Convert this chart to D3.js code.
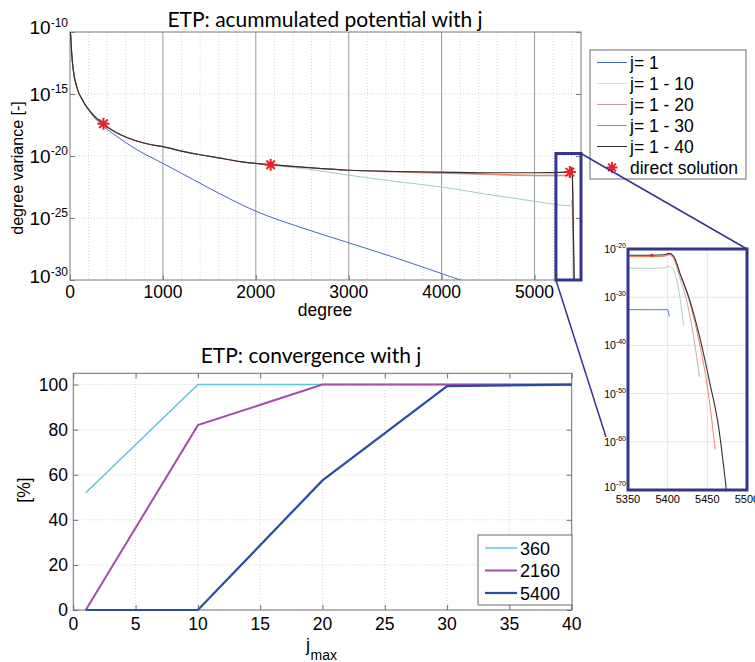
<!DOCTYPE html>
<html>
<head>
<meta charset="utf-8">
<script src="https://cdn.jsdelivr.net/npm/d3@7"></script>
<style>
  body { margin: 0; background: #fff; }
  svg { display: block; }
  text { font-family: "Liberation Sans", Arial, sans-serif; fill: #000; }
  .title { font-family: Lato, "Open Sans", sans-serif; }
</style>
</head>
<body>
<svg id="chart" width="755" height="662"></svg>
<script>
// ---------- degree variance of the accumulated potential (log10 values) ----------
const degJ1  = [2, 7, 18, 36, 72, 143, 251, 358, 500, 700, 1000, 1327, 1500, 2000, 2500, 3000, 3500, 4200, 4800, 5380, 5400, 5402];
const expJ1  = [-10.0, -10.25, -11.7, -13.1, -14.4, -15.6, -16.8, -17.6, -18.4, -19.4, -20.6, -21.9, -22.6, -24.45, -25.8, -27.0, -28.2, -30.0, -31.5, -32.6, -32.6, -34.0];

const degJ10 = [2, 7, 18, 36, 72, 143, 251, 358, 450, 550, 700, 850, 1000, 1200, 1400, 1600, 1830, 2000, 2160, 2500, 3000, 3500, 4000, 4500, 5000, 5380, 5396, 5402, 5408, 5414, 5420];
const expJ10 = [-10.0, -10.25, -11.7, -13.1, -14.4, -15.6, -16.7, -17.4, -17.9, -18.3, -18.75, -19.05, -19.25, -19.6, -19.9, -20.15, -20.45, -20.6, -20.75, -21.0, -21.55, -22.05, -22.5, -23.1, -23.65, -24.0, -23.9, -23.6, -24.6, -28.5, -35.9];

const degJ20 = [2, 7, 18, 36, 72, 143, 251, 358, 450, 550, 700, 850, 1000, 1200, 1400, 1600, 1830, 2000, 2160, 2500, 3000, 3500, 4000, 4500, 5000, 5380, 5396, 5402, 5408, 5415, 5425, 5433, 5440];
const expJ20 = [-10.0, -10.25, -11.7, -13.1, -14.4, -15.6, -16.7, -17.4, -17.9, -18.3, -18.75, -19.05, -19.25, -19.6, -19.9, -20.15, -20.45, -20.6, -20.7, -20.9, -21.15, -21.3, -21.4, -21.5, -21.6, -21.6, -21.5, -21.2, -22.2, -25.8, -31.5, -38.5, -46.5];

const degJ30 = [2, 7, 18, 36, 72, 143, 251, 358, 450, 550, 700, 850, 1000, 1200, 1400, 1600, 1830, 2000, 2160, 2500, 3000, 3500, 4000, 4500, 5000, 5380, 5396, 5402, 5408, 5415, 5428, 5440, 5450, 5460];
const expJ30 = [-10.0, -10.25, -11.7, -13.1, -14.4, -15.6, -16.7, -17.4, -17.9, -18.3, -18.75, -19.05, -19.25, -19.6, -19.9, -20.15, -20.45, -20.6, -20.7, -20.9, -21.15, -21.25, -21.35, -21.45, -21.55, -21.55, -21.45, -21.1, -21.9, -25.0, -31.2, -39.5, -48.5, -61.6];

const degJ40 = [2, 7, 18, 36, 72, 143, 251, 358, 450, 550, 700, 850, 1000, 1200, 1400, 1600, 1830, 2000, 2160, 2500, 3000, 3500, 4000, 4500, 5000, 5380, 5396, 5402, 5408, 5415, 5428, 5441, 5453, 5464, 5474];
const expJ40 = [-10.0, -10.25, -11.7, -13.1, -14.4, -15.6, -16.7, -17.4, -17.9, -18.3, -18.75, -19.05, -19.25, -19.6, -19.9, -20.15, -20.45, -20.6, -20.7, -20.9, -21.15, -21.25, -21.3, -21.35, -21.35, -21.3, -21.2, -20.9, -21.6, -24.8, -30.7, -38.7, -47.7, -56.7, -70.0];

const seriesNames = ["j= 1", "j= 1 - 10", "j= 1 - 20", "j= 1 - 30", "j= 1 - 40"];

// direct solution at the three resolutions
const directDeg = [360, 2160, 5380];
const directExp = [-17.4, -20.7, -21.3];
const directName = "direct solution";

// axis ticks
const degreeTicks = [0, 1000, 2000, 3000, 4000, 5000];
const degreeMinorTicks = d3.range(200, 5500, 200);
const varExpTicks = [-10, -15, -20, -25, -30];
const insetDegTicks = [5350, 5400, 5450, 5500];
const insetExpTicks = [-20, -30, -40, -50, -60, -70];

// zoom window on the truncation end
const zoomDeg = [5230, 5500];
const zoomExp = [-19.8, -30];

// ---------- convergence vs. maximum j ----------
const jmax = [1, 10, 20, 30, 40];
const conv360  = [52, 100, 100, 100, 100];
const conv2160 = [0, 82, 100, 100, 100];
const conv5400 = [0, 0, 57.5, 99.3, 100];
const convNames = ["360", "2160", "5400"];
const jTicks = [0, 5, 10, 15, 20, 25, 30, 35, 40];
const pctTicks = [0, 20, 40, 60, 80, 100];

// ---------- styling ----------
const lineColors = ["#4466bb", "#a3caca", "#c99c9c", "#f07452", "#303030"];
const convColors = ["#5cc6d6", "#a24fa6", "#2a4ca6"];
const convWidths = [1.5, 2, 2.2];
const navy = "#34348e";
const starRed = "#e8202a";

const svg = d3.select("#chart");

// ================= upper panel =================
const x = d3.scaleLinear().domain([0, 5500]).range([70, 581]);
const y = d3.scaleLog().domain([1e-30, 1e-10]).range([280, 32]);
const upper = svg.append("g");

upper.append("defs").append("clipPath").attr("id", "clipTop")
  .append("rect").attr("x", x(0)).attr("y", y(1e-10))
  .attr("width", x(5500) - x(0)).attr("height", y(1e-30) - y(1e-10));

// grid
upper.append("g").selectAll("line").data(degreeMinorTicks.filter(d => d % 1000 !== 0)).join("line")
  .attr("x1", d => x(d)).attr("x2", d => x(d)).attr("y1", y(1e-10)).attr("y2", y(1e-30))
  .attr("stroke", "#cfcfcf").attr("stroke-width", 0.8).attr("stroke-dasharray", "1,2");
upper.append("g").selectAll("line").data(degreeTicks.filter(d => d > 0)).join("line")
  .attr("x1", d => x(d)).attr("x2", d => x(d)).attr("y1", y(1e-10)).attr("y2", y(1e-30))
  .attr("stroke", "#9a9a9a").attr("stroke-width", 1);
upper.append("g").selectAll("line").data(varExpTicks.slice(1, -1)).join("line")
  .attr("x1", x(0)).attr("x2", x(5500)).attr("y1", d => y(10 ** d)).attr("y2", d => y(10 ** d))
  .attr("stroke", "#c8c8c8").attr("stroke-width", 0.8).attr("stroke-dasharray", "1,2");

// box and inward ticks
upper.append("rect").attr("x", x(0)).attr("y", y(1e-10))
  .attr("width", x(5500) - x(0)).attr("height", y(1e-30) - y(1e-10))
  .attr("fill", "none").attr("stroke", "#7a7a7a").attr("stroke-width", 1);
upper.append("g").attr("transform", `translate(0,${y(1e-30)})`)
  .call(d3.axisBottom(x).tickValues(degreeTicks).tickSizeInner(-5).tickSizeOuter(0).tickFormat(""))
  .call(g => g.select(".domain").remove())
  .call(g => g.selectAll("line").attr("stroke", "#7a7a7a"));
[x(0), x(5500)].forEach((px, i) => {
  upper.append("g").attr("transform", `translate(${px},0)`)
    .call((i === 0 ? d3.axisLeft(y) : d3.axisRight(y)).tickValues(varExpTicks.map(e => 10 ** e))
      .tickSizeInner(-5).tickSizeOuter(0).tickFormat(""))
    .call(g => g.select(".domain").remove())
    .call(g => g.selectAll("line").attr("stroke", "#7a7a7a"));
});

// tick labels
upper.append("g").selectAll("text").data(degreeTicks).join("text")
  .attr("x", d => x(d)).attr("y", 298).attr("text-anchor", "middle")
  .attr("font-size", 17.5).text(d => d);

function powerLabel(g, px, py, e, big, small, rise) {
  const t = g.append("text").attr("x", px).attr("y", py).attr("text-anchor", "end")
    .attr("font-size", big);
  t.append("tspan").text("10");
  t.append("tspan").attr("font-size", small).attr("dy", -rise).text(e);
  return t;
}
varExpTicks.forEach((e, i) => {
  const off = i === 0 ? 2 : (i === varExpTicks.length - 1 ? 3 : 6.5);
  powerLabel(upper, 68, y(10 ** e) + off, e, 19, 12, 7.5);
});

// curves
const seriesDeg = [degJ1, degJ10, degJ20, degJ30, degJ40];
const seriesExp = [expJ1, expJ10, expJ20, expJ30, expJ40];
const seriesData = seriesDeg.map((ds, k) => ds.map((d, i) => [d, seriesExp[k][i]]));

const curves = upper.append("g").attr("clip-path", "url(#clipTop)");
const lineTop = d3.line().x(d => x(d[0])).y(d => y(10 ** d[1])).curve(d3.curveMonotoneX);
seriesData.forEach((s, k) => {
  curves.append("path").datum(s).attr("d", lineTop).attr("fill", "none")
    .attr("stroke", lineColors[k]).attr("stroke-width", k === 4 ? 1.2 : 1);
});

// asterisk marker
function starPath(r) {
  const a = r * 0.707;
  return `M${-r},0L${r},0M0,${-r}L0,${r}M${-a},${-a}L${a},${a}M${-a},${a}L${a},${-a}`;
}
upper.append("g").selectAll("path").data(directDeg.map((d, i) => [d, directExp[i]])).join("path")
  .attr("transform", d => `translate(${x(d[0])},${y(10 ** d[1])})`)
  .attr("d", starPath(6)).attr("stroke", starRed).attr("stroke-width", 2).attr("fill", "none");

// axis titles
upper.append("text").attr("class", "title").attr("x", 325).attr("y", 27)
  .attr("text-anchor", "middle").attr("font-size", 21).text("ETP: acummulated potential with j");
upper.append("text").attr("x", 325).attr("y", 316).attr("text-anchor", "middle")
  .attr("font-size", 17.5).text("degree");
upper.append("text").attr("transform", "translate(23,168) rotate(-90)")
  .attr("text-anchor", "middle").attr("font-size", 16).text("degree variance [-]");

// legend
const lg = upper.append("g");
lg.append("rect").attr("x", 590).attr("y", 50).attr("width", 156).attr("height", 129)
  .attr("fill", "#fff").attr("stroke", "#6a6a6a").attr("stroke-width", 1);
seriesNames.forEach((name, k) => {
  const cy = 62.5 + k * 21;
  lg.append("line").attr("x1", 597).attr("x2", 627).attr("y1", cy).attr("y2", cy)
    .attr("stroke", k === 1 ? "#d6dede" : lineColors[k]).attr("stroke-width", 1);
  lg.append("text").attr("x", 630).attr("y", cy + 6).attr("font-size", 17.5).text(name);
});
lg.append("path").attr("transform", "translate(612,167.5)").attr("d", starPath(5.5))
  .attr("stroke", starRed).attr("stroke-width", 2).attr("fill", "none");
lg.append("text").attr("x", 630).attr("y", 173.5).attr("font-size", 17.5).text(directName);

// ================= inset =================
const xi = d3.scaleLinear().domain([5350, 5500]).range([628, 747]);
const yi = d3.scaleLog().domain([1e-70, 1e-20]).range([490, 249]);
const inset = svg.append("g");
inset.append("defs").append("clipPath").attr("id", "clipInset")
  .append("rect").attr("x", xi(5350)).attr("y", yi(1e-20))
  .attr("width", xi(5500) - xi(5350)).attr("height", yi(1e-70) - yi(1e-20));
inset.append("rect").attr("x", xi(5350)).attr("y", yi(1e-20))
  .attr("width", xi(5500) - xi(5350)).attr("height", yi(1e-70) - yi(1e-20)).attr("fill", "#fff");
inset.append("g").selectAll("line").data(insetDegTicks.slice(1, -1)).join("line")
  .attr("x1", d => xi(d)).attr("x2", d => xi(d)).attr("y1", yi(1e-20)).attr("y2", yi(1e-70))
  .attr("stroke", "#dcdce6").attr("stroke-width", 0.8);
inset.append("g").selectAll("line").data(insetExpTicks.slice(1, -1)).join("line")
  .attr("x1", xi(5350)).attr("x2", xi(5500)).attr("y1", d => yi(10 ** d)).attr("y2", d => yi(10 ** d))
  .attr("stroke", "#dcdce6").attr("stroke-width", 0.8);
const lineInset = d3.line().x(d => xi(d[0])).y(d => yi(10 ** d[1])).curve(d3.curveMonotoneX);
const insetCurves = inset.append("g").attr("clip-path", "url(#clipInset)");
seriesData.forEach((s, k) => {
  insetCurves.append("path").datum(s).attr("d", lineInset).attr("fill", "none")
    .attr("stroke", lineColors[k]).attr("stroke-width", k === 4 ? 1.1 : 0.9);
});
insetCurves.append("path")
  .attr("transform", `translate(${xi(directDeg[2])},${yi(10 ** directExp[2])})`)
  .attr("d", starPath(1.6)).attr("stroke", starRed).attr("stroke-width", 1.2);
inset.append("rect").attr("x", xi(5350)).attr("y", yi(1e-20))
  .attr("width", xi(5500) - xi(5350)).attr("height", yi(1e-70) - yi(1e-20))
  .attr("fill", "none").attr("stroke", navy).attr("stroke-width", 3);
insetExpTicks.forEach((e, i) => {
  const off = i === insetExpTicks.length - 1 ? 1 : 4;
  powerLabel(inset, 626, yi(10 ** e) + off, e, 10.5, 7, 5).attr("fill", "#222");
});
inset.append("g").selectAll("text").data(insetDegTicks).join("text")
  .attr("x", d => xi(d)).attr("y", 503).attr("text-anchor", "middle")
  .attr("font-size", 11).text(d => d);

// zoom window and connectors
svg.append("rect").attr("x", x(zoomDeg[0])).attr("y", y(10 ** zoomExp[0]))
  .attr("width", x(zoomDeg[1]) - x(zoomDeg[0])).attr("height", y(10 ** zoomExp[1]) - y(10 ** zoomExp[0]))
  .attr("fill", "none").attr("stroke", navy).attr("stroke-width", 3);
svg.append("line")
  .attr("x1", x(zoomDeg[1])).attr("y1", y(10 ** zoomExp[0]))
  .attr("x2", xi(5500)).attr("y2", yi(1e-20))
  .attr("stroke", navy).attr("stroke-width", 1.5);
svg.append("line")
  .attr("x1", x(zoomDeg[0])).attr("y1", y(10 ** zoomExp[1]))
  .attr("x2", xi(5350) - 22).attr("y2", yi(1e-59))
  .attr("stroke", navy).attr("stroke-width", 1.5);

// ================= lower panel =================
const xb = d3.scaleLinear().domain([0, 40]).range([73.3, 571.7]);
const yb = d3.scaleLinear().domain([0, 105]).range([610, 373.3]);
const lower = svg.append("g");

lower.append("g").selectAll("line").data(jTicks.slice(1, -1)).join("line")
  .attr("x1", d => xb(d)).attr("x2", d => xb(d)).attr("y1", yb(0)).attr("y2", yb(105))
  .attr("stroke", "#c8c8c8").attr("stroke-width", 0.8).attr("stroke-dasharray", "1,2");
lower.append("g").selectAll("line").data(pctTicks.slice(1)).join("line")
  .attr("x1", xb(0)).attr("x2", xb(40)).attr("y1", d => yb(d)).attr("y2", d => yb(d))
  .attr("stroke", "#c8c8c8").attr("stroke-width", 0.8).attr("stroke-dasharray", "1,2");
lower.append("rect").attr("x", xb(0)).attr("y", yb(105))
  .attr("width", xb(40) - xb(0)).attr("height", yb(0) - yb(105))
  .attr("fill", "none").attr("stroke", "#6e6e6e").attr("stroke-width", 1);
[yb(0), yb(105)].forEach((py, i) => {
  lower.append("g").attr("transform", `translate(0,${py})`)
    .call((i === 0 ? d3.axisBottom(xb) : d3.axisTop(xb)).tickValues(jTicks).tickSizeInner(-5).tickSizeOuter(0).tickFormat(""))
    .call(g => g.select(".domain").remove())
    .call(g => g.selectAll("line").attr("stroke", "#6e6e6e"));
});
[xb(0), xb(40)].forEach((px, i) => {
  lower.append("g").attr("transform", `translate(${px},0)`)
    .call((i === 0 ? d3.axisLeft(yb) : d3.axisRight(yb)).tickValues(pctTicks).tickSizeInner(-5).tickSizeOuter(0).tickFormat(""))
    .call(g => g.select(".domain").remove())
    .call(g => g.selectAll("line").attr("stroke", "#6e6e6e"));
});
lower.append("g").selectAll("text").data(jTicks).join("text")
  .attr("x", d => xb(d)).attr("y", 630).attr("text-anchor", "middle")
  .attr("font-size", 17.5).text(d => d);
lower.append("g").selectAll("text").data(pctTicks).join("text")
  .attr("x", 68).attr("y", d => yb(d) + 6).attr("text-anchor", "end")
  .attr("font-size", 17.5).text(d => d);

const convData = [conv360, conv2160, conv5400].map(v => jmax.map((j, i) => [j, v[i]]));
const lineBot = d3.line().x(d => xb(d[0])).y(d => yb(d[1]));
convData.forEach((s, k) => {
  lower.append("path").datum(s).attr("d", lineBot).attr("fill", "none")
    .attr("stroke", convColors[k]).attr("stroke-width", convWidths[k]);
});

lower.append("text").attr("class", "title").attr("x", 311).attr("y", 363)
  .attr("text-anchor", "middle").attr("font-size", 21).text("ETP: convergence with j");
const jl = lower.append("text").attr("x", 306).attr("y", 651).attr("font-size", 18);
jl.append("tspan").text("j");
jl.append("tspan").attr("font-size", 14).attr("dy", 9).attr("dx", 0.5).text("max");
lower.append("text").attr("transform", "translate(30,490) rotate(-90)")
  .attr("text-anchor", "middle").attr("font-size", 17.5).text("[%]");

// legend
const bl = lower.append("g");
bl.append("rect").attr("x", 478).attr("y", 535).attr("width", 94).attr("height", 70)
  .attr("fill", "#fff").attr("stroke", "#6a6a6a").attr("stroke-width", 1);
convNames.forEach((name, k) => {
  const cy = 548 + k * 22.5;
  bl.append("line").attr("x1", 485).attr("x2", 517).attr("y1", cy).attr("y2", cy)
    .attr("stroke", convColors[k]).attr("stroke-width", convWidths[k]);
  bl.append("text").attr("x", 520).attr("y", cy + 6.5).attr("font-size", 18).text(name);
});
</script>
</body>
</html>
